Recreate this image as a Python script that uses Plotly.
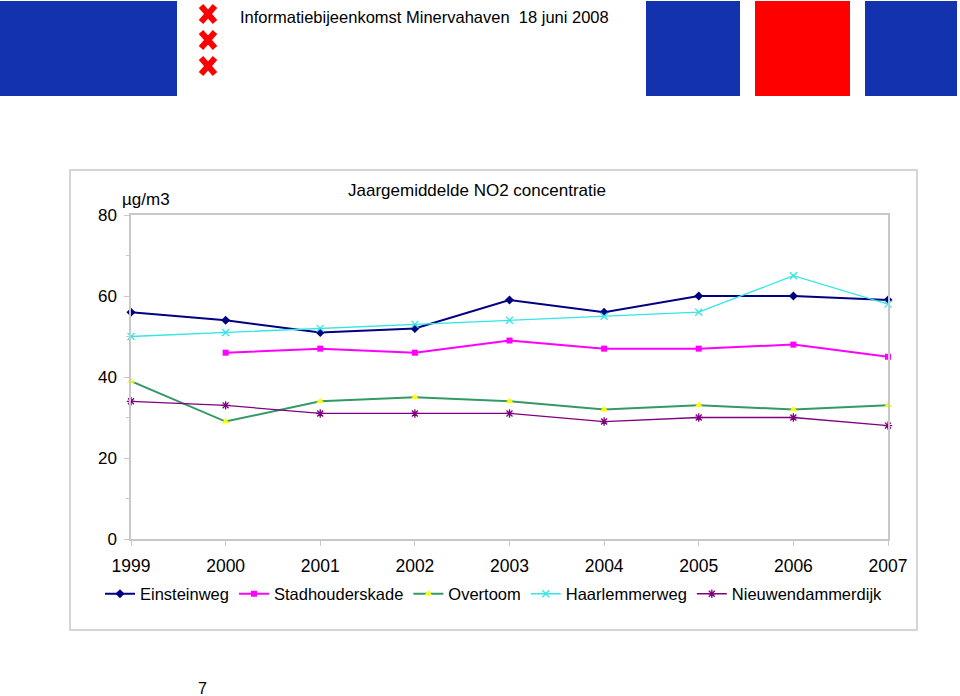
import plotly.graph_objects as go

years = [1999, 2000, 2001, 2002, 2003, 2004, 2005, 2006, 2007]
einsteinweg = [56, 54, 51, 52, 59, 56, 60, 60, 59]
stadhouderskade = [None, 46, 47, 46, 49, 47, 47, 48, 45]
overtoom = [39, 29, 34, 35, 34, 32, 33, 32, 33]
haarlemmerweg = [50, 51, 52, 53, 54, 55, 56, 65, 58]
nieuwendammerdijk = [34, 33, 31, 31, 31, 29, 30, 30, 28]

W, H = 960, 696
L, R, T, B = 131, 72, 215, 157
PW, PH = W - L - R, H - T - B

def px(x):
    return (x - L) / PW

def py(y):
    return (H - B - y) / PH

FONT = "Liberation Sans, Arial, sans-serif"

fig = go.Figure()
series = [
    ("Einsteinweg", einsteinweg, "#000080", 2, dict(symbol="diamond", size=7, color="#000080")),
    ("Stadhouderskade", stadhouderskade, "#ff00ff", 2, dict(symbol="square", size=6, color="#ff00ff")),
    ("Overtoom", overtoom, "#339966", 2, dict(symbol="triangle-up", size=7, color="#ffff00")),
    ("Haarlemmerweg", haarlemmerweg, "#33e6e6", 1.3, dict(symbol="x-thin", size=7, color="#33e6e6", line=dict(width=1.3, color="#33e6e6"))),
    ("Nieuwendammerdijk", nieuwendammerdijk, "#800080", 1.3, dict(symbol="asterisk", size=7, color="#800080", line=dict(width=1.3, color="#800080"))),
]
for name, vals, col, lw, mk in series:
    fig.add_trace(go.Scatter(x=years, y=vals, name=name, mode="lines+markers",
                             line=dict(color=col, width=lw), marker=mk,
                             cliponaxis=False, connectgaps=False))

shapes = []
# outer chart frame
shapes.append(dict(type="rect", xref="paper", yref="paper", x0=px(70), x1=px(917), y0=py(630), y1=py(170),
                   line=dict(color="#c8c8c8", width=1.5), fillcolor="rgba(0,0,0,0)", layer="below"))
# header blocks
for (x0, x1, c) in [(0, 177, "#1232ae"), (646, 740, "#1232ae"), (755, 850, "#ff0000"), (865, 957, "#1232ae")]:
    shapes.append(dict(type="rect", xref="paper", yref="paper", x0=px(x0), x1=px(x1), y0=py(96), y1=py(1),
                       line=dict(width=0), fillcolor=c))
# red crosses
for cy in [14, 40, 66]:
    for (a, b, c, d) in [(201, cy - 8, 215, cy + 8), (201, cy + 8, 215, cy - 8)]:
        shapes.append(dict(type="line", xref="paper", yref="paper", x0=px(a), y0=py(b), x1=px(c), y1=py(d),
                           line=dict(color="#ff0000", width=6)))

annotations = [
    dict(text="Informatiebijeenkomst Minervahaven  18 juni 2008", xref="paper", yref="paper",
         x=px(238), y=py(17), xanchor="left", yanchor="middle", showarrow=False,
         font=dict(family=FONT, size=16.5, color="#000000")),
    dict(text="Jaargemiddelde NO2 concentratie", xref="paper", yref="paper",
         x=px(477), y=py(190), xanchor="center", yanchor="middle", showarrow=False,
         font=dict(family=FONT, size=17, color="#000000")),
    dict(text="µg/m3", xref="paper", yref="paper",
         x=px(120), y=py(199), xanchor="left", yanchor="middle", showarrow=False,
         font=dict(family=FONT, size=17, color="#000000")),
    dict(text="7", xref="paper", yref="paper",
         x=px(202), y=py(688), xanchor="center", yanchor="middle", showarrow=False,
         font=dict(family=FONT, size=16, color="#000000")),
]

fig.update_layout(
    width=W, height=H,
    margin=dict(l=L, r=R, t=T, b=B),
    paper_bgcolor="white", plot_bgcolor="white",
    font=dict(family=FONT, size=16.5, color="#000000"),
    shapes=shapes, annotations=annotations,
    showlegend=True,
    legend=dict(orientation="h", x=px(100), y=py(594), xanchor="left", yanchor="middle",
                font=dict(family=FONT, size=16.5), itemwidth=30, tracegroupgap=0,
                bgcolor="rgba(0,0,0,0)"),
    xaxis=dict(range=[1999, 2007], tickmode="array", tickvals=years, ticktext=[str(y) for y in years],
               showgrid=False, zeroline=False, showline=True, linecolor="#c8c8c8", linewidth=1.5,
               mirror=True, ticks="outside", ticklen=5, tickcolor="#c8c8c8", tickfont=dict(size=17.5),
               ticklabelstandoff=5),
    yaxis=dict(range=[0, 80], tickvals=[0, 20, 40, 60, 80], showgrid=False, zeroline=False,
               showline=True, linecolor="#c8c8c8", linewidth=1.5, mirror=True,
               ticks="outside", ticklen=5, tickcolor="#c8c8c8", tickfont=dict(size=17),
               ticklabelstandoff=4,
               minor=dict(tickvals=[10, 30, 50, 70], ticks="outside", ticklen=3, tickcolor="#c8c8c8")),
)

fig.write_html("out.html", config={"displayModeBar": False},
               post_script="document.body.style.margin='0';")
